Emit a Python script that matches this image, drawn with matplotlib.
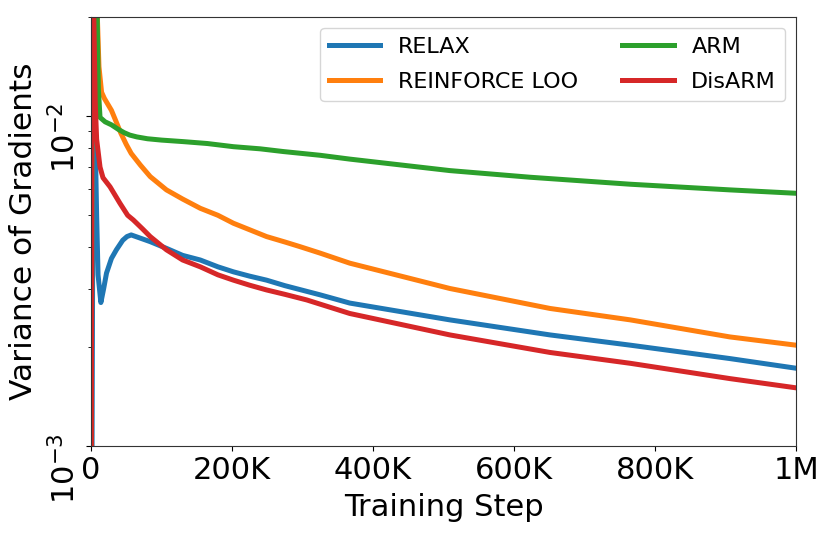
import matplotlib
matplotlib.use('Agg')
import matplotlib.pyplot as plt
import matplotlib.ticker as mticker
import numpy as np

# training steps (thousands) and gradient variance per estimator
relax_steps = [0, 3, 6, 8, 10, 14, 18, 22, 29, 36, 45, 51, 57, 65, 84, 107, 130, 155,
               180, 202, 225, 249, 275, 325, 367, 509, 651, 765, 906, 1000]
relax_var = [1e-4, 0.0095, 0.0085, 0.005, 0.0033, 0.00272, 0.0030, 0.00334, 0.0037,
             0.00393, 0.0042, 0.00431, 0.00436, 0.0043, 0.00416, 0.00397, 0.00378,
             0.00366, 0.00349, 0.00337, 0.00327, 0.00318, 0.00306, 0.00287, 0.00271,
             0.00241, 0.00217, 0.00202, 0.00184, 0.00172]

loo_steps = [0, 1.5, 9, 11.3, 15, 19, 29, 34, 42, 50, 57, 70, 84, 107, 130, 155, 180,
             202, 225, 249, 275, 296, 325, 367, 509, 651, 765, 906, 1000]
loo_var = [1e-4, 0.05, 0.02, 0.0141, 0.0118, 0.0113, 0.0104, 0.0098, 0.0089, 0.0082,
           0.0077, 0.0071, 0.00655, 0.00597, 0.0056, 0.00525, 0.0050, 0.00473,
           0.00452, 0.00431, 0.00415, 0.00402, 0.00384, 0.00358, 0.0030, 0.00261,
           0.00241, 0.00214, 0.00202]

arm_steps = [0, 1.5, 8, 10.5, 12.8, 20, 29, 39, 47, 55, 65, 80, 100, 131, 165, 202,
             240, 273, 325, 367, 509, 623, 765, 906, 1000]
arm_var = [1e-4, 0.05, 0.025, 0.012, 0.0099, 0.0096, 0.0094, 0.0091, 0.0089, 0.00875,
           0.00864, 0.00853, 0.00845, 0.00836, 0.00825, 0.00807, 0.00795, 0.0078,
           0.0076, 0.0074, 0.00683, 0.00652, 0.00621, 0.00597, 0.00583]

disarm_steps = [0, 1.5, 4, 6, 8, 12.8, 17, 27, 41, 52, 60, 73, 84, 107, 130, 155, 180,
                202, 225, 249, 275, 306, 367, 509, 651, 765, 906, 1000]
disarm_var = [1e-4, 0.05, 0.02, 0.011, 0.0085, 0.0070, 0.0065, 0.0061, 0.00544, 0.0050,
              0.00484, 0.00455, 0.00431, 0.00393, 0.00366, 0.00349, 0.0033, 0.00318,
              0.00307, 0.00297, 0.00288, 0.00277, 0.00252, 0.00217, 0.00192, 0.00178,
              0.0016, 0.0015]

xtick_vals = [0, 200, 400, 600, 800, 1000]
xtick_labels = ['0', '200K', '400K', '600K', '800K', '1M']

series = [
    ('RELAX', relax_steps, relax_var, '#1f77b4'),
    ('REINFORCE LOO', loo_steps, loo_var, '#ff7f0e'),
    ('ARM', arm_steps, arm_var, '#2ca02c'),
    ('DisARM', disarm_steps, disarm_var, '#d62728'),
]

fig = plt.figure(figsize=(8.31, 5.36), dpi=100)
ax = fig.add_axes([0.1095, 0.168, 0.8485, 0.801])

for name, steps, var, color in series:
    ax.plot(np.array(steps) * 1000, var, color=color, lw=3.6, label=name)

ax.set_yscale('log')
ax.set_ylim(1e-3, 2e-2)
ax.set_xlim(0, 1e6)
ax.set_xticks(np.array(xtick_vals) * 1000)
ax.set_xticklabels(xtick_labels)
ax.yaxis.set_minor_formatter(mticker.NullFormatter())
ax.tick_params(axis='both', which='major', labelsize=22)
ax.tick_params(axis='y', which='major', labelrotation=90)

for sp in ax.spines.values():
    sp.set_color('#333333')

ax.set_xlabel('Training Step', fontsize=22, labelpad=6)
ax.set_ylabel('Variance of Gradients', fontsize=22.5, labelpad=8)

ax.legend(loc='upper right', ncol=2, fontsize=16, handlelength=2.3,
          labelspacing=0.7)

fig.savefig('out.png', dpi=100)
